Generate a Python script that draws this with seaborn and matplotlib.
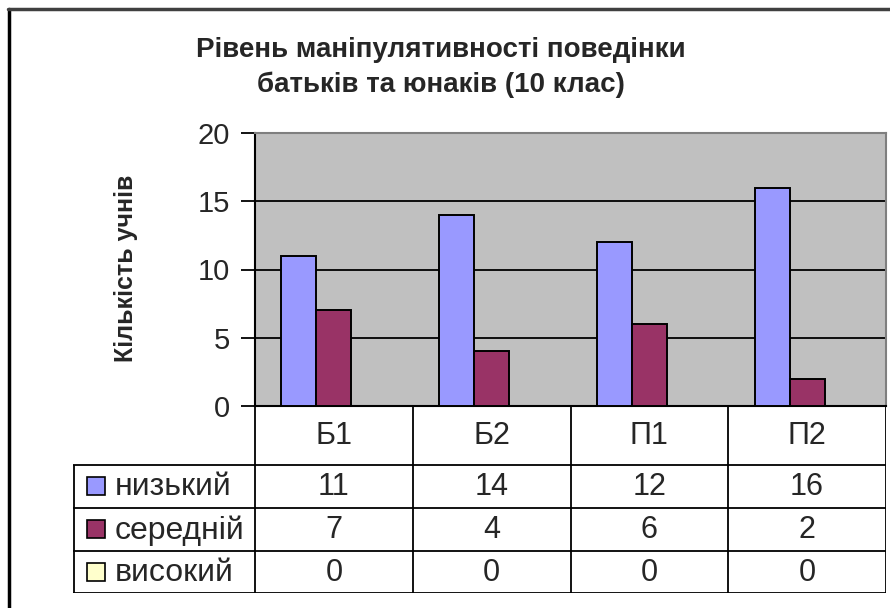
import numpy as np
import pandas as pd
import matplotlib
matplotlib.use("Agg")
import matplotlib.pyplot as plt
from matplotlib.lines import Line2D
from matplotlib.patches import Rectangle
import seaborn as sns

# Дані діаграми
categories = ["Б1", "Б2", "П1", "П2"]
levels = ["низький", "середній", "високий"]
low = [11, 14, 12, 16]
mid = [7, 4, 6, 2]
high = [0, 0, 0, 0]
colors = ["#9999FF", "#993366", "#FFFFCC"]

df = pd.DataFrame({
    "група": categories * 3,
    "рівень": np.repeat(levels, len(categories)),
    "кількість": low + mid + high,
})

sns.set_style("white")
plt.rcParams["font.family"] = ["Liberation Sans", "DejaVu Sans"]

W, H = 890, 608
fig = plt.figure(figsize=(W / 100, H / 100), dpi=100)


def box(x0, y0, x1, y1):
    return [x0 / W, 1 - y1 / H, (x1 - x0) / W, (y1 - y0) / H]


# область графіка
px0, py0, px1, py1 = 255, 133, 886, 406
ax = fig.add_axes(box(px0, py0, px1, py1))
ax.set_facecolor("#C0C0C0")
sns.barplot(data=df, x="група", y="кількість", hue="рівень", hue_order=levels,
            palette=colors, width=0.665, gap=0, saturation=1,
            edgecolor="black", linewidth=1.4, legend=False, ax=ax, zorder=3)
ax.set_xlim(-0.5, len(categories) - 0.5)
ax.set_ylim(0, 20)
ax.set_yticks(range(0, 21, 5))
ax.yaxis.grid(True, color="black", linewidth=1.3, zorder=0)
ax.set_axisbelow(True)
ax.set_xticks([])
ax.set_xlabel("")
ax.set_ylabel("")
ax.tick_params(axis="y", left=True, length=10, width=1.3, direction="out",
               labelsize=21, pad=8, color="black")
ax.spines["left"].set_color("black")
ax.spines["left"].set_linewidth(1.5)
ax.spines["bottom"].set_color("black")
ax.spines["bottom"].set_linewidth(1.5)
for s in ["top", "right"]:
    ax.spines[s].set_color("#7f7f7f")
    ax.spines[s].set_linewidth(1.5)

fig.text(441 / W, 1 - 57 / H, "Рівень маніпулятивності поведінки",
         ha="center", va="baseline", fontsize=20, fontweight="bold")
fig.text(441 / W, 1 - 92 / H, "батьків та юнаків (10 клас)",
         ha="center", va="baseline", fontsize=20, fontweight="bold")
fig.text(126 / W, 1 - 268 / H, "Кількість учнів", rotation=90, ha="center", va="center",
         fontsize=18, fontweight="bold")

# таблиця даних
tx0, ty0, tx1, ty1 = 73, 406, 886, 593
tax = fig.add_axes(box(tx0, ty0, tx1, ty1))
tax.set_xlim(tx0, tx1)
tax.set_ylim(ty1, ty0)
tax.axis("off")
colw = (px1 - px0) / len(categories)
rows = [406, 465, 508, 551, 593]
lkw = dict(color="black", linewidth=1.3, solid_capstyle="butt")
for i in range(len(categories) + 1):
    x = px0 + i * colw
    tax.plot([x, x], [rows[0], rows[-1]], **lkw)
tax.plot([tx0 + 1, tx0 + 1], [rows[1], rows[-1]], **lkw)
for r in rows[1:]:
    tax.plot([tx0, tx1], [r, r], **lkw)

for i, c in enumerate(categories):
    tax.text(px0 + (i + 0.5) * colw, (rows[0] + rows[1]) / 2 + 1, c,
             ha="center", va="center", fontsize=22)

series = [low, mid, high]
for j, (name, vals, col) in enumerate(zip(levels, series, colors)):
    yc = (rows[j + 1] + rows[j + 2]) / 2
    tax.add_patch(Rectangle((87, yc - 9), 18, 18, facecolor=col, edgecolor="black",
                            linewidth=1.2))
    tax.text(115, yc + 1, name, ha="left", va="center", fontsize=23)
    for i, v in enumerate(vals):
        tax.text(px0 + (i + 0.5) * colw, yc + 1, str(v), ha="center", va="center", fontsize=22)

# рамка діаграми
fig.add_artist(Line2D([9 / W, 9 / W], [1 - 9 / H, 0], transform=fig.transFigure,
                      color="black", linewidth=2.5))
fig.add_artist(Line2D([8 / W, 1], [1 - 9 / H, 1 - 9 / H], transform=fig.transFigure,
                      color="#404040", linewidth=2.5))

fig.savefig("out.png", dpi=100)
